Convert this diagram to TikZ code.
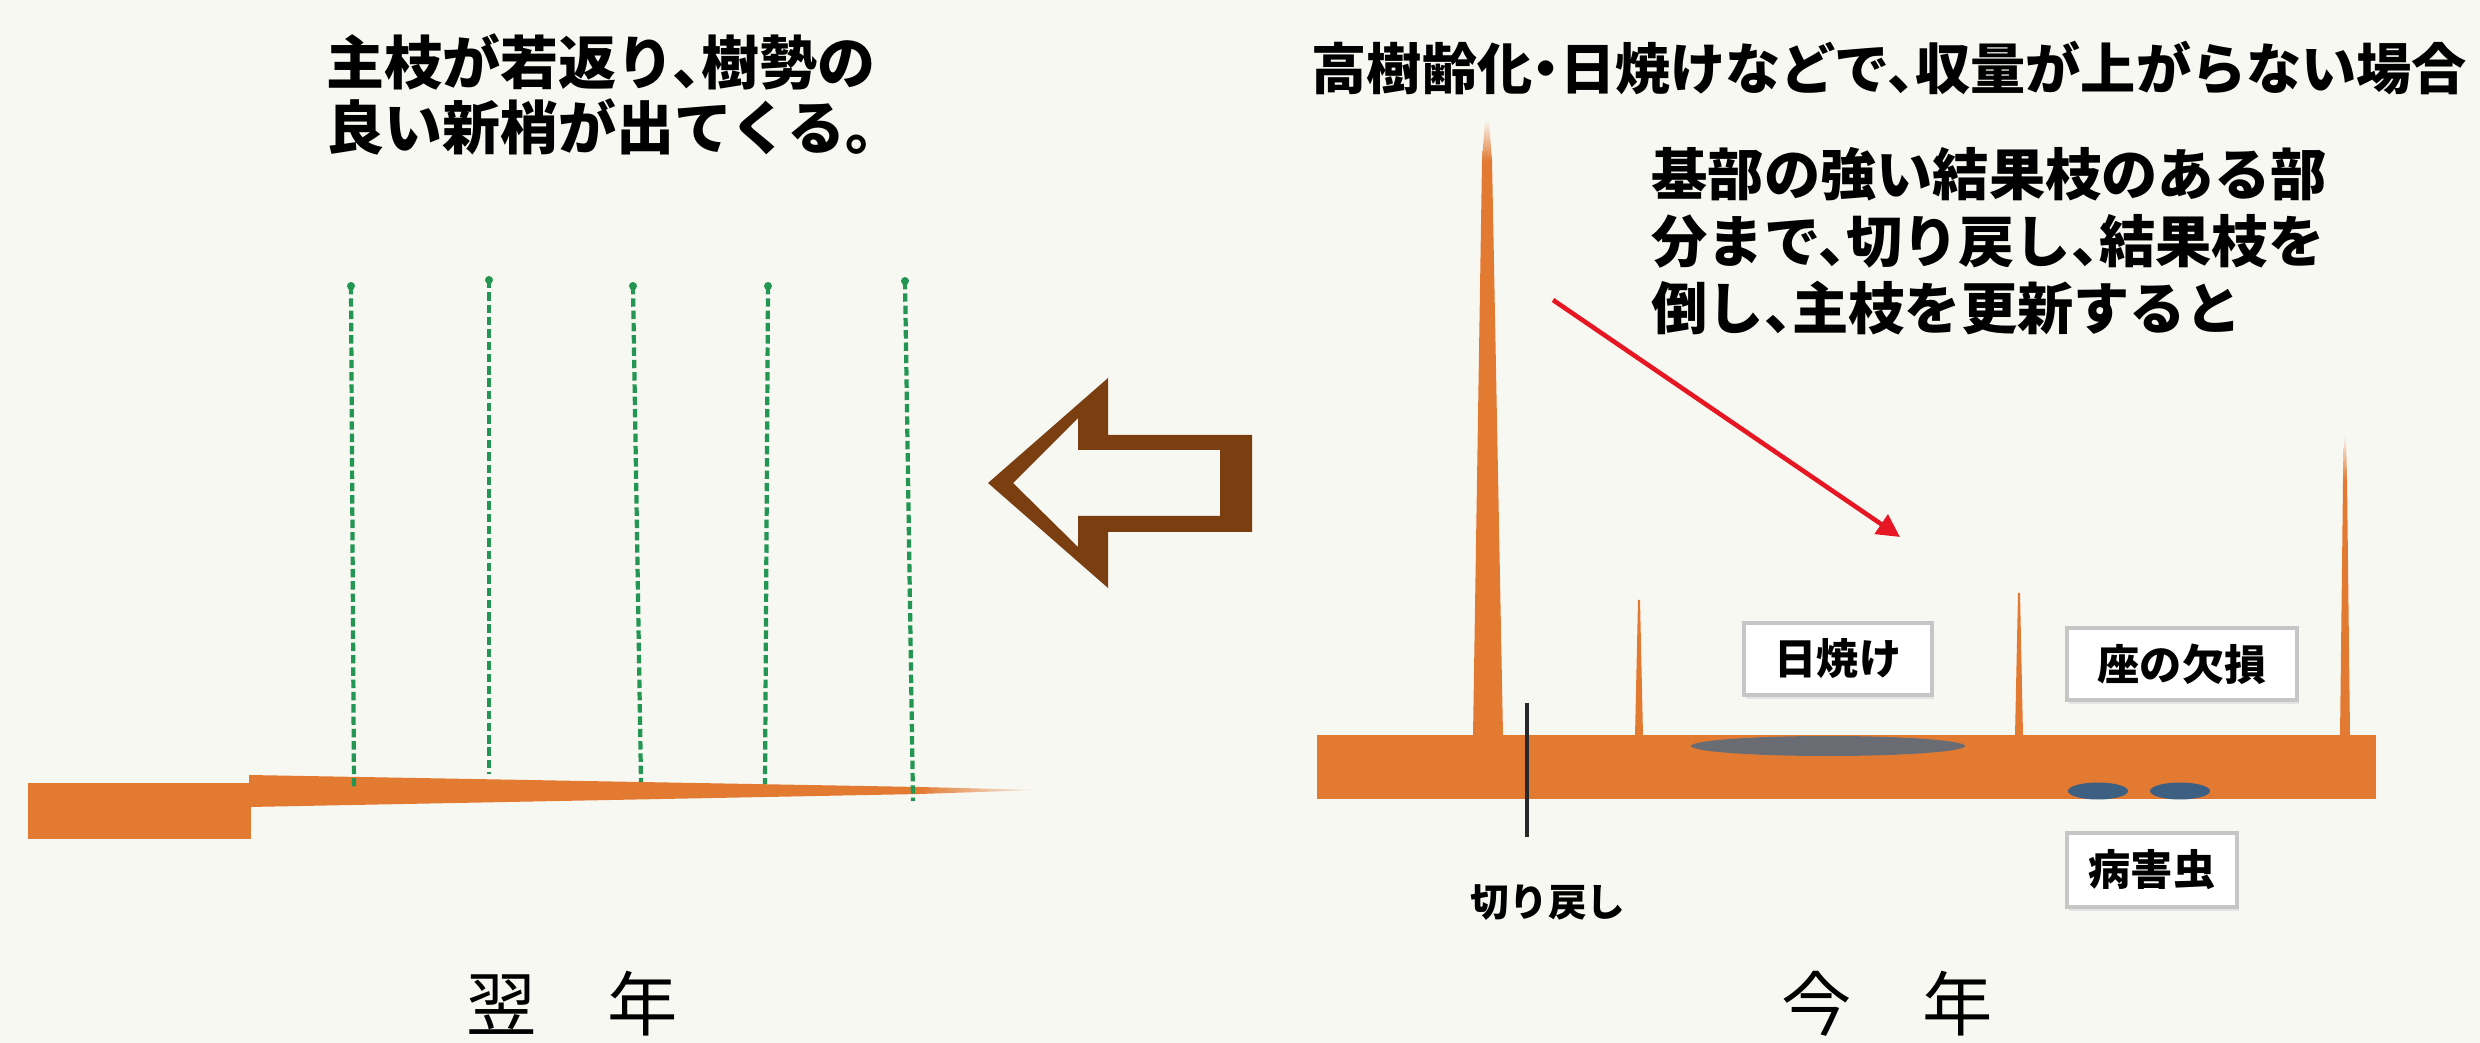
\documentclass[tikz,border=0pt]{standalone}
\usepackage{fontspec}
\setmainfont{Noto Sans CJK JP}[RawFeature=+halt]
\usetikzlibrary{arrows.meta,shadows}

\definecolor{bgcol}{RGB}{248,248,243}
\definecolor{branchorange}{RGB}{226,122,50}
\definecolor{arrowbrown}{RGB}{122,62,16}
\definecolor{shootgreen}{RGB}{34,150,82}
\definecolor{arrowred}{RGB}{230,22,35}
\definecolor{burngray}{RGB}{105,108,115}
\definecolor{pestblue}{RGB}{60,95,130}
\definecolor{cutblack}{RGB}{40,40,40}

\tikzstyle{jptext} = [inner sep=0pt, align=left]
\tikzstyle{labelbox} = [rectangle, draw=gray!45, line width=1.2pt, fill=white, inner sep=0pt, font=\fontsize{12}{14}\selectfont\bfseries, drop shadow={shadow xshift=0.6pt, shadow yshift=-1.2pt, fill=gray!35}]
\tikzstyle{shoot} = [draw=shootgreen, line width=1.2pt, dash pattern=on 2.4pt off 1.1pt]
\tikzstyle{arrow} = [line width=1.3pt, draw=arrowred, -{Triangle[length=6.5pt,width=6.5pt]}]

\begin{document}
\begin{tikzpicture}[node distance=2cm]
%背景
\fill[bgcol] (0,0) rectangle (24.8,-10.43);
\useasboundingbox (0,0) rectangle (24.8,-10.43);

%翌年の枝
\fill[branchorange] (0.28,-7.83) rectangle (2.51,-8.39);
\fill[branchorange] (2.49,-7.75) -- (9.2,-7.87) -- (9.2,-7.94) -- (2.49,-8.07) -- cycle;
\shade[left color=branchorange, right color=bgcol] (9.19,-7.87) -- (10.4,-7.90) -- (9.19,-7.94) -- cycle;

%新梢
\draw[shoot] (3.51,-2.86) -- (3.54,-7.90);
\draw[shoot] (4.89,-2.80) -- (4.89,-7.74);
\draw[shoot] (6.33,-2.86) -- (6.41,-7.82);
\draw[shoot] (7.68,-2.86) -- (7.65,-7.84);
\draw[shoot] (9.05,-2.81) -- (9.13,-8.01);
\fill[shootgreen] (3.51,-2.86) circle (0.04);
\fill[shootgreen] (4.89,-2.80) circle (0.04);
\fill[shootgreen] (6.33,-2.86) circle (0.04);
\fill[shootgreen] (7.68,-2.86) circle (0.04);
\fill[shootgreen] (9.05,-2.81) circle (0.04);

%矢印
\fill[arrowbrown, even odd rule] (9.88,-4.83) -- (11.08,-3.78) -- (11.08,-4.35) -- (12.52,-4.35) -- (12.52,-5.32) -- (11.08,-5.32) -- (11.08,-5.88) -- cycle
  (10.13,-4.83) -- (10.78,-4.18) -- (10.78,-4.50) -- (12.20,-4.50) -- (12.20,-5.16) -- (10.78,-5.16) -- (10.78,-5.47) -- cycle;

%今年の枝
\fill[branchorange] (13.17,-7.35) rectangle (23.76,-7.99);
\fill[branchorange] (14.73,-7.36) -- (14.82,-1.6) -- (14.92,-1.6) -- (15.03,-7.36) -- cycle;
\shade[bottom color=branchorange, top color=bgcol] (14.82,-1.61) -- (14.85,-1.2) -- (14.89,-1.2) -- (14.92,-1.61) -- cycle;
\fill[branchorange] (16.35,-7.36) -- (16.38,-6.0) -- (16.40,-6.0) -- (16.43,-7.36) -- cycle;
\fill[branchorange] (20.15,-7.36) -- (20.18,-5.93) -- (20.20,-5.93) -- (20.23,-7.36) -- cycle;
\fill[branchorange] (23.40,-7.36) -- (23.43,-4.8) -- (23.47,-4.8) -- (23.50,-7.36) -- cycle;
\shade[bottom color=branchorange, top color=bgcol] (23.43,-4.81) -- (23.44,-4.35) -- (23.46,-4.35) -- (23.47,-4.81) -- cycle;

%日焼け・病害虫
\fill[burngray] (18.28,-7.46) ellipse (1.37 and 0.10);
\fill[pestblue] (20.98,-7.91) ellipse (0.30 and 0.085);
\fill[pestblue] (21.80,-7.91) ellipse (0.30 and 0.085);

%切り戻し位置
\draw[line width=1.2pt, cutblack] (15.27,-7.03) -- (15.27,-8.37);

%ラベル
\node (hiyake) [labelbox, minimum width=1.88cm, minimum height=0.72cm] at (18.38,-6.59) {日焼け};
\node (zakesson) [labelbox, minimum width=2.30cm, minimum height=0.72cm] at (21.82,-6.64) {座の欠損};
\node (byogai) [labelbox, minimum width=1.70cm, minimum height=0.74cm] at (21.52,-8.70) {病害虫};
\node (kirimodoshi) [font=\fontsize{11}{13}\selectfont\bfseries] at (15.48,-9.03) {切り戻し};

%説明文
\node (yokuTxt) [jptext, anchor=west, font=\fontsize{16.5}{18.5}\selectfont\bfseries] at (3.26,-0.945) {主枝が若返り、樹勢の\\良い新梢が出てくる。};
\node (kotoshiTxt) [jptext, anchor=west, font=\fontsize{15.7}{18}\selectfont\bfseries] at (13.11,-0.68) {高樹齢化・日焼けなどで、収量が上がらない場合};
\node (koshinTxt) [jptext, anchor=west, font=\fontsize{16}{19}\selectfont\bfseries] at (16.51,-2.41) {基部の強い結果枝のある部\\分まで、切り戻し、結果枝を\\倒し、主枝を更新すると};
\node (yokunen) [font=\fontsize{20}{22}\selectfont] at (5.72,-10.04) {翌　年};
\node (kotoshi) [font=\fontsize{20}{22}\selectfont] at (18.87,-10.04) {今　年};

%赤矢印
\coordinate (redS) at (15.53,-3.00);
\coordinate (redE) at (19.00,-5.37);
\draw [arrow](redS) -- (redE);

\end{tikzpicture}
\end{document}
